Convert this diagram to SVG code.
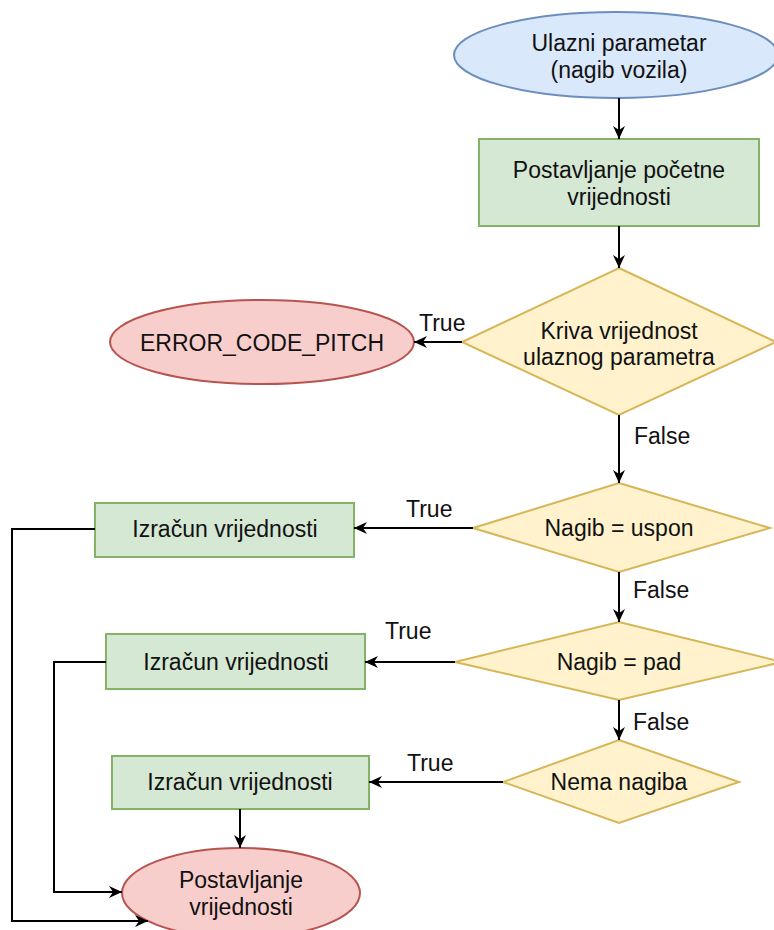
<svg xmlns="http://www.w3.org/2000/svg" width="774" height="930" viewBox="0 0 774 930">
<style>
text{font-family:"Liberation Sans",Arial,sans-serif;font-size:23px;fill:#111;text-anchor:middle}
.lbl{text-anchor:start}
.blue{fill:#dae8fc;stroke:#6c8ebf;stroke-width:2}
.green{fill:#d5e8d4;stroke:#82b366;stroke-width:2}
.yellow{fill:#fff2cc;stroke:#d6b656;stroke-width:2}
.red{fill:#f8cecc;stroke:#b85450;stroke-width:2}
.edge{fill:none;stroke:#000;stroke-width:2;marker-end:url(#arr)}
</style>
<defs>
<marker id="arr" markerUnits="userSpaceOnUse" markerWidth="14" markerHeight="14" viewBox="0 0 14 14" refX="13" refY="7" orient="auto">
<path d="M0,1 L13,7 L0,13 L4,7 Z" fill="#000"/>
</marker>
</defs>
<rect width="774" height="930" fill="#fff"/>
<g id="start">
<ellipse class="blue" cx="616" cy="55" rx="162" ry="43"/>
<text x="619" y="51">Ulazni parametar</text>
<text x="619" y="78">(nagib vozila)</text>
</g>
<g id="init">
<rect class="green" x="479" y="139" width="280" height="87"/>
<text x="619" y="178">Postavljanje početne</text>
<text x="619" y="205">vrijednosti</text>
</g>
<g id="check">
<polygon class="yellow" points="619,268 776,342 619,415 462,342"/>
<text x="619" y="339">Kriva vrijednost</text>
<text x="619" y="365">ulaznog parametra</text>
</g>
<g id="error">
<ellipse class="red" cx="262" cy="342" rx="152" ry="42"/>
<text x="262" y="351">ERROR_CODE_PITCH</text>
</g>
<g id="uspon">
<polygon class="yellow" points="619,483 770,528 619,572 473,528"/>
<text x="619" y="536">Nagib = uspon</text>
</g>
<g id="calc1">
<rect class="green" x="95" y="503" width="259" height="54"/>
<text x="225" y="537">Izračun vrijednosti</text>
</g>
<g id="pad">
<polygon class="yellow" points="619,622 782,662 619,700 455,662"/>
<text x="619" y="670">Nagib = pad</text>
</g>
<g id="calc2">
<rect class="green" x="106" y="634" width="259" height="55"/>
<text x="236" y="670">Izračun vrijednosti</text>
</g>
<g id="nema">
<polygon class="yellow" points="619,740 739,782 619,823 503,782"/>
<text x="619" y="790">Nema nagiba</text>
</g>
<g id="calc3">
<rect class="green" x="112" y="756" width="257" height="53"/>
<text x="240" y="790">Izračun vrijednosti</text>
</g>
<g id="end">
<ellipse class="red" cx="241" cy="893" rx="119" ry="45"/>
<text x="241" y="888">Postavljanje</text>
<text x="241" y="915">vrijednosti</text>
</g>
<g id="connectors">
<path class="edge" d="M619,98 L619,139"/>
<path class="edge" d="M619,226 L619,268"/>
<path class="edge" d="M462,342 L414,342"/>
<path class="edge" d="M619,415 L619,483"/>
<path class="edge" d="M473,528 L354,528"/>
<path class="edge" d="M619,572 L619,622"/>
<path class="edge" d="M455,662 L365,662"/>
<path class="edge" d="M619,700 L619,740"/>
<path class="edge" d="M503,782 L369,782"/>
<path class="edge" d="M240,809 L240,848"/>
<path class="edge" d="M95,529 L12,529 L12,921 L148,921"/>
<path class="edge" d="M106,662 L54,662 L54,892 L122,892"/>
<text class="lbl" x="419" y="331">True</text>
<text class="lbl" x="634" y="444">False</text>
<text class="lbl" x="406" y="517">True</text>
<text class="lbl" x="633" y="598">False</text>
<text class="lbl" x="385" y="639">True</text>
<text class="lbl" x="633" y="730">False</text>
<text class="lbl" x="407" y="771">True</text>
</g>
</svg>
